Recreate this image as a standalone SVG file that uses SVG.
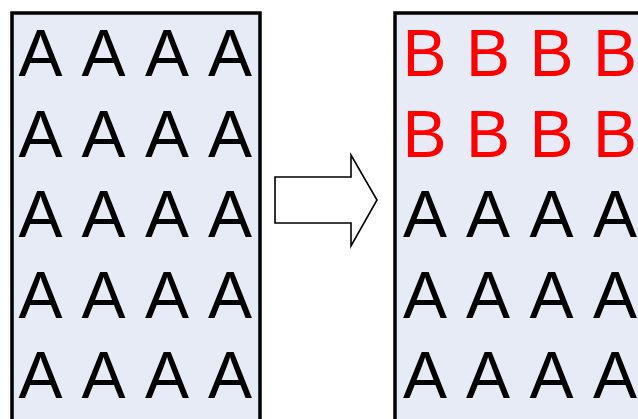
<svg xmlns="http://www.w3.org/2000/svg" width="638" height="419" viewBox="0 0 638 419">
  <style>
    .panel { fill: #e6ebf6; stroke: #000; stroke-width: 3.5; }
    .glyph { font-family: "Liberation Sans", Arial, sans-serif; font-size: 66px; text-anchor: middle; }
    .a { fill: #000; }
    .b { fill: #ff0000; }
    .arrow { fill: #fff; stroke: #000; stroke-width: 1.6; stroke-linejoin: miter; }
  </style>

  <!-- Left panel: 4 x 5 grid of A -->
  <g id="before">
    <rect class="panel" x="12" y="13" width="248" height="420"/>
    <g class="glyph a">
      <text x="40.5" y="76">A</text><text x="103.5" y="76">A</text><text x="167" y="76">A</text><text x="230" y="76">A</text>
      <text x="40.5" y="157">A</text><text x="103.5" y="157">A</text><text x="167" y="157">A</text><text x="230" y="157">A</text>
      <text x="40.5" y="237">A</text><text x="103.5" y="237">A</text><text x="167" y="237">A</text><text x="230" y="237">A</text>
      <text x="40.5" y="318">A</text><text x="103.5" y="318">A</text><text x="167" y="318">A</text><text x="230" y="318">A</text>
      <text x="40.5" y="398">A</text><text x="103.5" y="398">A</text><text x="167" y="398">A</text><text x="230" y="398">A</text>
    </g>
  </g>

  <!-- Block arrow between panels -->
  <g id="connectors">
    <path class="arrow" d="M275,177 H351 V155 L377,200 L351,246 V223 H275 Z"/>
  </g>

  <!-- Right panel: first two rows replaced by B -->
  <g id="after">
    <rect class="panel" x="395" y="13" width="260" height="420"/>
    <g class="glyph b">
      <text x="424.5" y="76">B</text><text x="488" y="76">B</text><text x="551.5" y="76">B</text><text x="615" y="76">B</text>
      <text x="424.5" y="157">B</text><text x="488" y="157">B</text><text x="551.5" y="157">B</text><text x="615" y="157">B</text>
    </g>
    <g class="glyph a">
      <text x="425" y="237">A</text><text x="488" y="237">A</text><text x="551.5" y="237">A</text><text x="615" y="237">A</text>
      <text x="425" y="318">A</text><text x="488" y="318">A</text><text x="551.5" y="318">A</text><text x="615" y="318">A</text>
      <text x="425" y="398">A</text><text x="488" y="398">A</text><text x="551.5" y="398">A</text><text x="615" y="398">A</text>
    </g>
  </g>
</svg>
